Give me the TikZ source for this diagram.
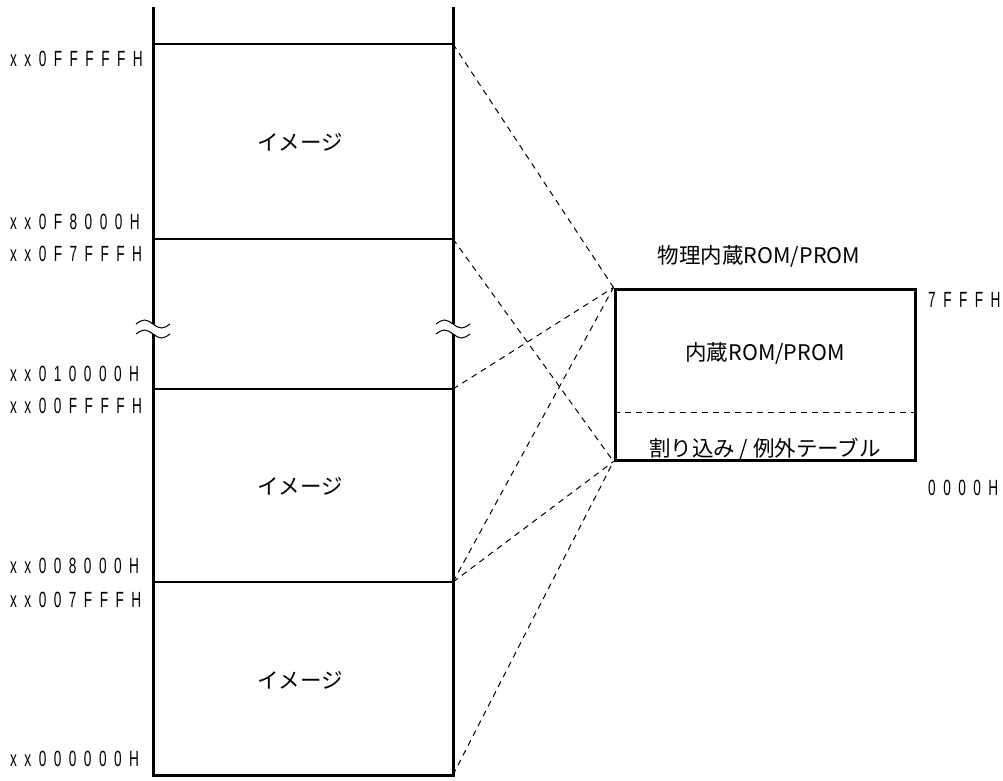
\documentclass[tikz,border=0pt]{standalone}
\usepackage{fontspec}
\newfontfamily\jpfont{Noto Sans CJK JP}
\newfontfamily\addrfont[FakeStretch=0.62,LetterSpace=34]{Liberation Sans}
\begin{document}
\begin{tikzpicture}[x=1pt,y=-1pt,
  thickline/.style={line width=3pt},
  thinline/.style={line width=1.2pt},
  dashline/.style={line width=1pt,dash pattern=on 6pt off 5pt},
  addr/.style={anchor=base west,inner sep=0pt,font=\addrfont\fontsize{22}{22}\selectfont},
  jp/.style={inner sep=0pt,font=\jpfont\fontsize{21.5}{21.5}\selectfont},
  breakmark/.style={line width=1pt}]
\useasboundingbox (0,0) rectangle (1003,780);
% left column coordinates
\coordinate (TL) at (153,7);
\coordinate (TR) at (453,7);
\coordinate (BL) at (153,775);
\coordinate (BR) at (453,775);
\coordinate (A1l) at (153,44);  \coordinate (A1) at (453,44);
\coordinate (A2l) at (153,239); \coordinate (A2) at (453,239);
\coordinate (A3l) at (153,389); \coordinate (A3) at (453,389);
\coordinate (A4l) at (153,582); \coordinate (A4) at (453,582);
% horizontal lines
\draw[thinline] (A1l) -- (A1);
\draw[thinline] (A2l) -- (A2);
\draw[thinline] (A3l) -- (A3);
\draw[thinline] (A4l) -- (A4);
% column outline
\draw[thickline] (TL) -- (BL) -- (BR) -- (TR);
% break marks
\foreach \bx in {153,453}{
  \fill[white] (\bx-2.5,324) rectangle (\bx+2.5,334);
  \draw[breakmark] (\bx-17,324) sin (\bx-8.5,320) cos (\bx,324) sin (\bx+8.5,328) cos (\bx+17,324);
  \draw[breakmark] (\bx-17,334) sin (\bx-8.5,330) cos (\bx,334) sin (\bx+8.5,338) cos (\bx+17,334);
}
% image labels
\node[jp] (img1) at (300,142) {イメージ};
\node[jp] (img2) at (300,486) {イメージ};
\node[jp] (img3) at (300,680) {イメージ};
% address labels
\node[addr] (a1) at (10,66) {xx0FFFFFH};
\node[addr] (a2) at (10,229) {xx0F8000H};
\node[addr] (a3) at (10,261) {xx0F7FFFH};
\node[addr] (a4) at (10,381) {xx010000H};
\node[addr] (a5) at (10,413) {xx00FFFFH};
\node[addr] (a6) at (10,573) {xx008000H};
\node[addr] (a7) at (10,607) {xx007FFFH};
\node[addr] (a8) at (10,766) {xx000000H};
% ROM box
\node[draw,thickline,minimum width=300pt,minimum height=171pt,inner sep=0pt] (rom) at (765,374.5) {};
\draw[dashline] (rom.west |- 0,412) coordinate (dl) -- (rom.east |- 0,412) coordinate (dr);
\node[jp] (romtitle) at (759,256) {物理内蔵ROM/PROM};
\node[jp] (romin) at (765,353) {内蔵ROM/PROM};
\node[jp] (vec) at (765,449) {割り込み / 例外テーブル};
\node[addr] (r1) at (928,307) {7FFFH};
\node[addr] (r2) at (928,495) {0000H};
% mapping lines
\draw[dashline] (A1) -- (rom.north west);
\draw[dashline] (A2) -- (rom.south west);
\draw[dashline] (A3) -- (rom.north west);
\draw[dashline] (BR) -- (rom.south west);
\draw[dashline] (A4) -- (rom.north west);
\draw[dashline] (A4) -- (rom.south west);
\end{tikzpicture}
\end{document}
